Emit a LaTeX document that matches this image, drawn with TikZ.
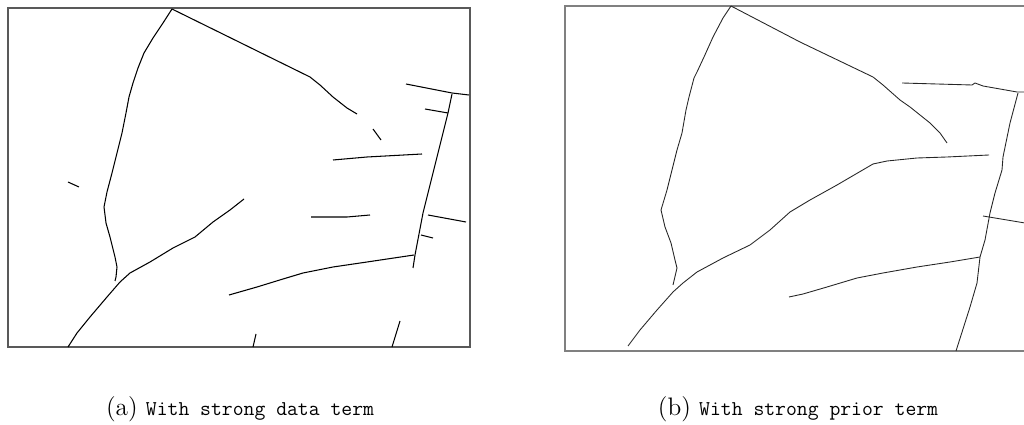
\documentclass[tikz,border=0pt]{standalone}
\usepackage{tikz}
\usetikzlibrary{calc}

\begin{document}
\begin{tikzpicture}[x=0.02cm,y=-0.02cm]

\useasboundingbox (0,0) rectangle (1024,425);

\coordinate (PanelA) at (8,8);
\coordinate (PanelB) at (565,6);

	% frame of left panel
	\draw[line width=0.9pt,black!65] (PanelA) rectangle (470,347);
	% frame of right panel (cut at the right side)
	\draw[line width=0.9pt,black!50] (1024,6) -- (PanelB) -- (565,351) -- (1024,351);

	%%% left panel - strong data term
	% long ridge on the left
	\draw[line width=0.6pt] (172,9) -- (163,23) -- (153,38) -- (144,53) -- (138,68) -- (133,83) -- (129,97) -- (126,113) -- (122,133) -- (117,153) -- (112,173) -- (107,192) -- (104,207) -- (106,223) -- (110,237) -- (115,257) -- (117,267) -- (116,277) -- (115,281);
	% top diagonal
	\draw[line width=0.6pt] (172,9) -- (310,77) -- (320,85) -- (333,97) -- (347,108) -- (357,114);
	\draw[line width=0.6pt] (373,129) -- (381,140);
	% horizontal pieces
	\draw[line width=0.6pt] (333,160) -- (367,157) -- (422,154);
	\draw[line width=0.6pt] (311,217) -- (347,217) -- (370,215);
	\draw[line width=0.6pt] (68,182) -- (79,187);
	% right ridge with its stubs
	\draw[line width=0.6pt] (452,94) -- (448,113) -- (433,173) -- (423,213) -- (415,255) -- (413,268);
	\draw[line width=0.6pt] (406,84) -- (452,93) -- (469,95);
	\draw[line width=0.6pt] (425,109) -- (448,113);
	\draw[line width=0.6pt] (428,215) -- (466,222);
	\draw[line width=0.6pt] (421,235) -- (433,238);
	% lower branch
	\draw[line width=0.6pt] (68,347) -- (77,333) -- (90,317) -- (107,297) -- (120,282) -- (130,273) -- (150,262) -- (173,248) -- (195,237) -- (213,222) -- (230,210) -- (244,199);
	\draw[line width=0.6pt] (229,295) -- (257,287) -- (283,279) -- (303,273) -- (333,267) -- (367,262) -- (414,255);
	% bottom stubs
	\draw[line width=0.6pt] (253,347) -- (256,334);
	\draw[line width=0.6pt] (392,347) -- (400,321);

	%%% right panel - strong prior term
	% long ridge on the left
	\draw[line width=0.5pt,black!85] (731,6) -- (723,18) -- (713,37) -- (704,57) -- (697,72) -- (694,78) -- (689,97) -- (686,110) -- (682,133) -- (677,150) -- (672,170) -- (667,190) -- (661,210) -- (665,227) -- (671,243) -- (675,260) -- (677,268) -- (673,285);
	% top diagonal
	\draw[line width=0.5pt,black!85] (731,6) -- (800,42) -- (873,77) -- (883,85) -- (900,100) -- (910,107) -- (920,115) -- (930,123) -- (940,133) -- (947,143);
	% top right piece
	\draw[line width=0.5pt,black!85] (902,83) -- (972,85) -- (975,83) -- (983,86) -- (1017,92) -- (1025,92);
	% right ridge
	\draw[line width=0.5pt,black!85] (1018,93) -- (1010,123) -- (1003,157) -- (1002,170) -- (995,193) -- (990,213) -- (985,240) -- (980,257) -- (977,283) -- (970,307) -- (956,351);
	% long branch from bottom left
	\draw[line width=0.5pt,black!85] (628,346) -- (640,330) -- (657,310) -- (673,292) -- (683,283) -- (697,272) -- (723,258) -- (750,245) -- (770,230) -- (790,212) -- (810,200) -- (837,185) -- (873,164) -- (887,161) -- (917,158) -- (947,157) -- (989,155);
	\draw[line width=0.5pt,black!85] (983,216) -- (1025,223);
	\draw[line width=0.5pt,black!85] (789,297) -- (803,294) -- (827,287) -- (857,278) -- (883,273) -- (917,267) -- (950,262) -- (980,257);

	% captions
	\node[anchor=base] (capA) at (240,416) {\Large (a) \large\ttfamily With strong data term};
	\node[anchor=base] (capB) at (798,416) {\Large (b) \large\ttfamily With strong prior term};

\end{tikzpicture}
\end{document}
